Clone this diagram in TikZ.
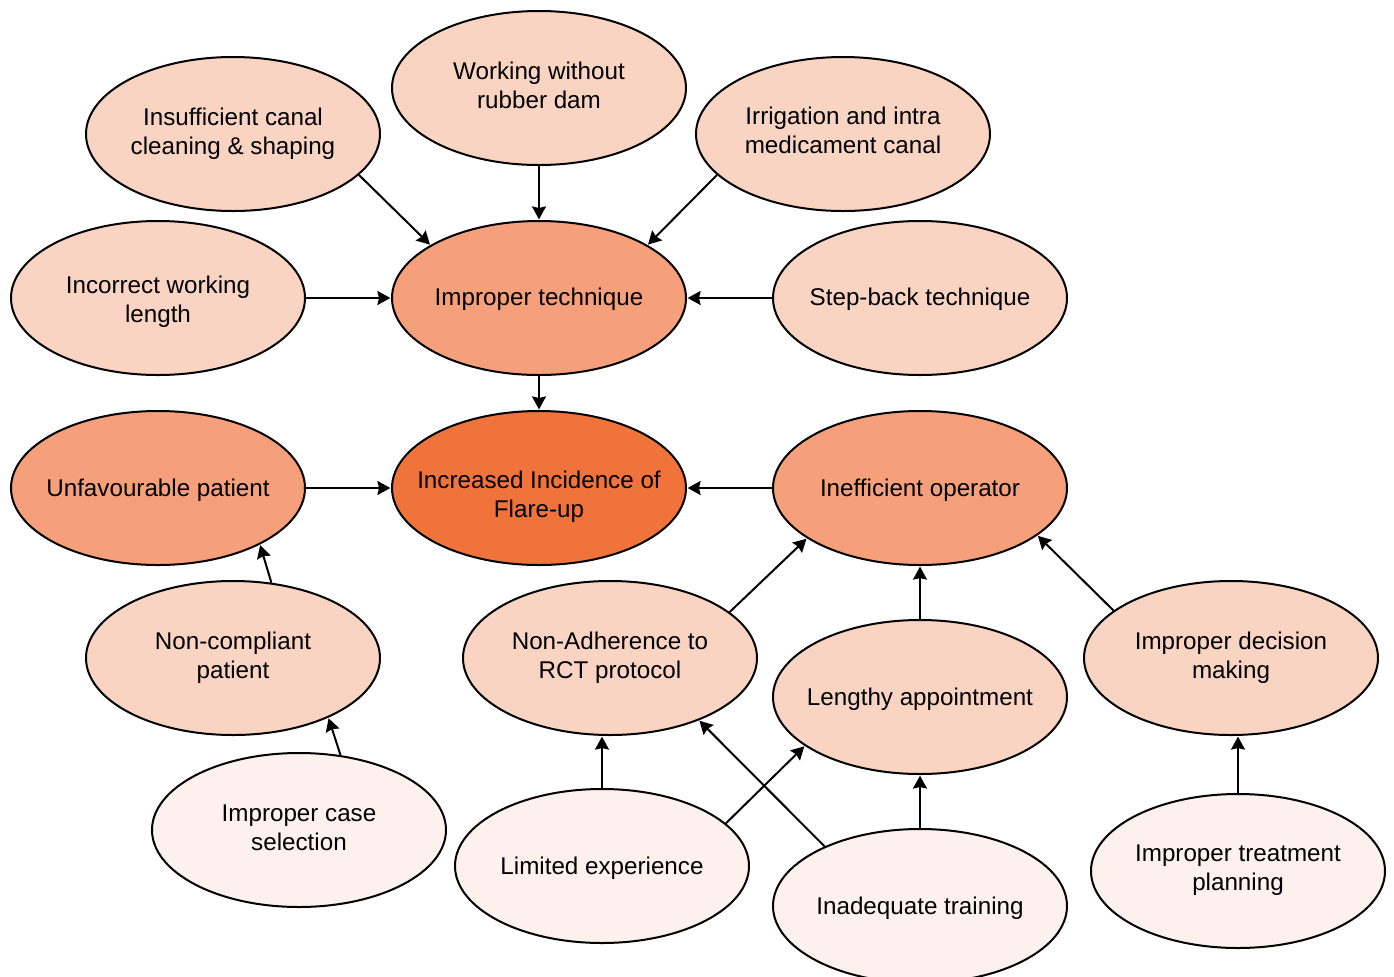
\documentclass[tikz,border=0pt]{standalone}
\usepackage{fontspec}
\setmainfont{Liberation Sans}
\usetikzlibrary{shapes.geometric,arrows.meta}
\definecolor{cA}{HTML}{FCF1EC}
\definecolor{cB}{HTML}{F9D4C3}
\definecolor{cC}{HTML}{F5A07A}
\definecolor{cD}{HTML}{F1733C}
\begin{document}
\begin{tikzpicture}[x=0.5pt,y=-0.5pt,
 bub/.style={ellipse, draw=black, line width=1pt, minimum width=147pt, minimum height=77pt, inner sep=0pt},
 txt/.style={align=center, font=\fontsize{12.1}{14.5}\selectfont, inner sep=0pt},
 arr/.style={-{Stealth[length=6.5pt,width=7pt,inset=0.8pt]}, line width=1pt, shorten >=0.3pt}]
\useasboundingbox (0,0) rectangle (1394,976);
% bubbles
\node[bub, fill=cB] (wrd) at (539,88) {};
\node[txt] (twrd) at ([yshift=1.5pt]wrd.center) {Working without\\rubber dam};
\node[bub, fill=cB] (ins) at (233,134) {};
\node[txt] (tins) at (ins) {Insufficient canal\\cleaning \& shaping};
\node[bub, fill=cB] (irr) at (843,134) {};
\node[txt] (tirr) at ([yshift=2pt]irr.center) {Irrigation and intra\\medicament canal};
\node[bub, fill=cB] (iwl) at (158,298) {};
\node[txt] (tiwl) at ([yshift=-2pt]iwl.center) {Incorrect working\\length};
\node[bub, fill=cC] (imp) at (539,298) {};
\node[txt] (timp) at ([yshift=-0.5pt]imp.center) {Improper technique};
\node[bub, fill=cB] (sbt) at (920,298) {};
\node[txt] (tsbt) at ([yshift=-0.5pt]sbt.center) {Step-back technique};
\node[bub, fill=cC] (unf) at (158,488) {};
\node[txt] (tunf) at ([yshift=-1pt]unf.center) {Unfavourable patient};
\node[bub, fill=cD] (inc) at (539,488) {};
\node[txt] (tinc) at ([yshift=-4.5pt]inc.center) {Increased Incidence of\\Flare-up};
\node[bub, fill=cC] (ineff) at (920,488) {};
\node[txt] (tineff) at ([yshift=-1pt]ineff.center) {Inefficient operator};
\node[bub, fill=cB] (ncp) at (233,658) {};
\node[txt] (tncp) at (ncp) {Non-compliant\\patient};
\node[bub, fill=cB] (nar) at (610,658) {};
\node[txt] (tnar) at (nar) {Non-Adherence to\\RCT protocol};
\node[bub, fill=cB] (lap) at (920,697) {};
\node[txt] (tlap) at ([yshift=-1pt]lap.center) {Lengthy appointment};
\node[bub, fill=cB] (idm) at (1231,658) {};
\node[txt] (tidm) at (idm) {Improper decision\\making};
\node[bub, fill=cA] (ics) at (299,830) {};
\node[txt] (tics) at ([yshift=1pt]ics.center) {Improper case\\selection};
\node[bub, fill=cA] (lex) at (602,866) {};
\node[txt] (tlex) at ([yshift=-1pt]lex.center) {Limited experience};
\node[bub, fill=cA] (itr) at (920,906) {};
\node[txt] (titr) at ([yshift=-1pt]itr.center) {Inadequate training};
\node[bub, fill=cA] (itp) at (1238,871) {};
\node[txt] (titp) at ([yshift=0.5pt]itp.center) {Improper treatment\\planning};
% arrows
\draw[arr] (ins.-18.6) -- (imp.154.5);
\draw[arr] (wrd.south) -- (imp.north);
\draw[arr] (irr.-162.1) -- (imp.26.4);
\draw[arr] (iwl.east) -- (imp.west);
\draw[arr] (sbt.west) -- (imp.east);
\draw[arr] (imp.south) -- (inc.north);
\draw[arr] (unf.east) -- (inc.west);
\draw[arr] (ineff.west) -- (inc.east);
\draw[arr] (ncp.63.7) -- (unf.-29.2);
\draw[arr] (ics.61.9) -- (ncp.-32.6);
\draw[arr] (nar.21.3) -- (ineff.-156.7);
\draw[arr] (lap.north) -- (ineff.south);
\draw[arr] (idm.158.9) -- (ineff.-22.8);
\draw[arr] (lex.north) -- (lex.north |- nar.south);
\draw[arr] (lex.19.6) -- (lap.-157.9);
\draw[arr] (itr.148.9) -- (nar.-35.8);
\draw[arr] (itr.north) -- (lap.south);
\draw[arr] (itp.north) -- (itp.north |- idm.south);
\end{tikzpicture}
\end{document}
